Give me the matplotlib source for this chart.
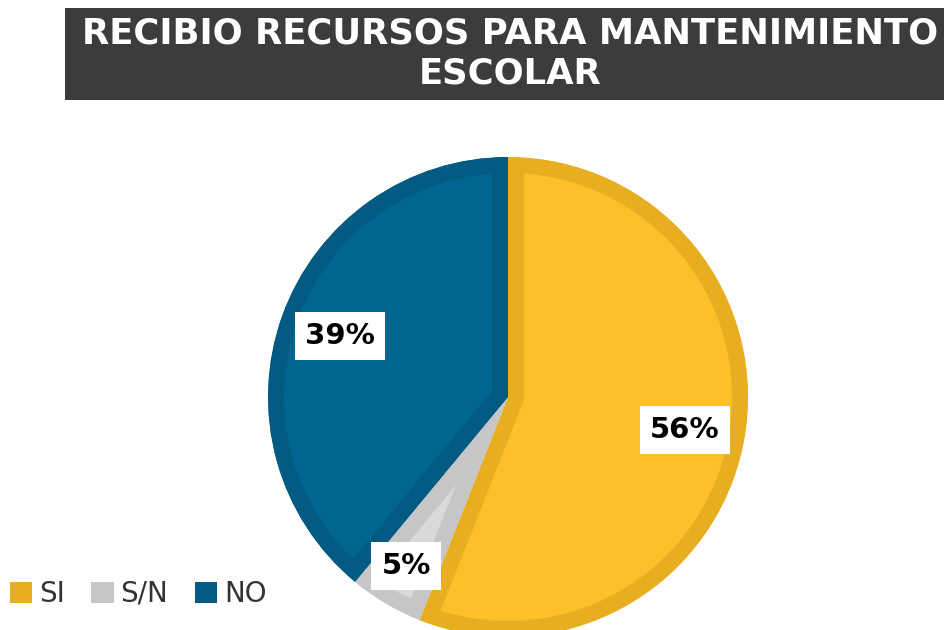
import matplotlib.pyplot as plt
from matplotlib.patches import Rectangle, Patch

# Data
categories = ['SI', 'S/N', 'NO']
values = [56, 5, 39]
labels = ['56%', '5%', '39%']
fill_colors = ['#FCC12A', '#D9D9D9', '#006590']
edge_colors = ['#E6AE20', '#C6C6C6', '#005A82']

fig = plt.figure(figsize=(9.45, 6.3), dpi=100)
ax = fig.add_axes([0, 0, 1, 1])

# pie in pixel-like coordinates (y up)
cx, cy, r = 508, 233, 240
wedges, _ = ax.pie(values, colors=fill_colors, startangle=90, counterclock=False,
                   center=(cx, cy), radius=r, frame=True)
ax.set_xlim(0, 945)
ax.set_ylim(0, 630)
ax.set_aspect('equal')
ax.axis('off')

# inner stroke: thick edge clipped to the wedge's own shape
for w, ec in zip(wedges, edge_colors):
    w.set_edgecolor(ec)
    w.set_linewidth(23)
    w.set_joinstyle('round')
    w.set_clip_on(True)
    w.set_clip_path(w)

# value labels
label_pos = [(685, 200), (406, 64), (340, 294)]
for (x, y), txt in zip(label_pos, labels):
    ax.text(x, y, txt, ha='center', va='center', fontsize=21, fontweight='bold',
            color='black',
            bbox=dict(boxstyle='square,pad=0.35', facecolor='white', edgecolor='none'))

# title box
ax.add_patch(Rectangle((65, 630 - 100), 900, 92, facecolor='#3C3C3C', edgecolor='none'))
ax.text(510, 630 - 33, 'RECIBIO RECURSOS PARA MANTENIMIENTO', ha='center', va='center',
        fontsize=25.5, fontweight='bold', color='white')
ax.text(510, 630 - 74, 'ESCOLAR', ha='center', va='center',
        fontsize=25.5, fontweight='bold', color='white')

# legend
handles = [Patch(facecolor=c, edgecolor='none') for c in edge_colors]
fig.legend(handles, categories, loc='lower left', bbox_to_anchor=(-0.013, 0.0), ncol=3,
           frameon=False, fontsize=20, handlelength=0.8, handleheight=0.8,
           handletextpad=0.25, columnspacing=0.95, labelcolor='#333333',
           borderpad=0.3)

fig.savefig('out.png', dpi=100)
